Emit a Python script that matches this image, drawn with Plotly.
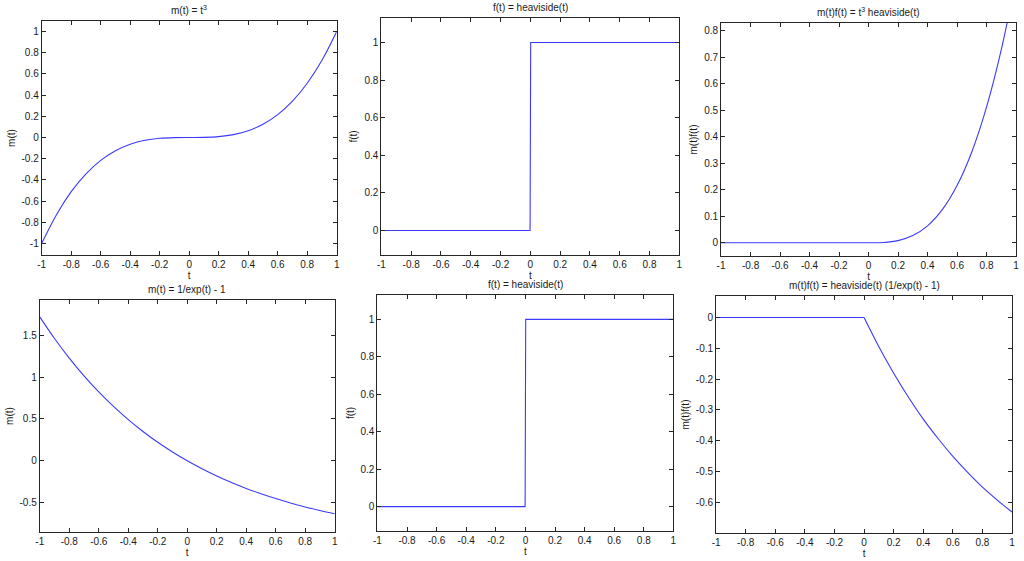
import plotly.graph_objects as go
from plotly.subplots import make_subplots

# sample points
t = [-1.0, -0.9, -0.8, -0.7, -0.6, -0.5, -0.4, -0.3, -0.2, -0.1, 0.0,
     0.1, 0.2, 0.3, 0.4, 0.5, 0.6, 0.7, 0.8, 0.9, 1.0]
t_neg = [-1.0, 0.0]
t_pos = [0.0, 0.1, 0.2, 0.3, 0.4, 0.5, 0.6, 0.7, 0.8, 0.9, 1.0]

m_cube = [-1.0, -0.729, -0.512, -0.343, -0.216, -0.125, -0.064, -0.027, -0.008, -0.001, 0.0,
          0.001, 0.008, 0.027, 0.064, 0.125, 0.216, 0.343, 0.512, 0.729, 1.0]
m_exp = [1.718, 1.46, 1.226, 1.014, 0.822, 0.649, 0.492, 0.35, 0.221, 0.105, 0.0,
         -0.095, -0.181, -0.259, -0.33, -0.393, -0.451, -0.503, -0.551, -0.593, -0.632]

t_step = [-1.0, -0.002, 0.0, 0.002, 1.0]
f_step = [0.0, 0.0, 0.5, 1.0, 1.0]

mf_cube = [0.0, 0.0, 0.0, 0.0, 0.0, 0.0, 0.0, 0.0, 0.0, 0.0, 0.0,
           0.001, 0.008, 0.027, 0.064, 0.125, 0.216, 0.343, 0.512, 0.729, 1.0]
mf_exp_flat = [0.0, 0.0]
mf_exp_pos = [0.0, -0.095, -0.181, -0.259, -0.33, -0.393, -0.451, -0.503, -0.551, -0.593, -0.632]

titles = [
    "m(t) = t<sup>3</sup>",
    "f(t) = heaviside(t)",
    "m(t)f(t) = t<sup>3</sup> heaviside(t)",
    "m(t) = 1/exp(t) - 1",
    "f(t) = heaviside(t)",
    "m(t)f(t) = heaviside(t) (1/exp(t) - 1)",
]
ylabels = ["m(t)", "f(t)", "m(t)f(t)", "m(t)", "f(t)", "m(t)f(t)"]

x_ticks = [-1, -0.8, -0.6, -0.4, -0.2, 0, 0.2, 0.4, 0.6, 0.8, 1]
x_ticktext = ["-1", "-0.8", "-0.6", "-0.4", "-0.2", "0", "0.2", "0.4", "0.6", "0.8", "1"]
y_ticks = [
    [-1, -0.8, -0.6, -0.4, -0.2, 0, 0.2, 0.4, 0.6, 0.8, 1],
    [0, 0.2, 0.4, 0.6, 0.8, 1],
    [0, 0.1, 0.2, 0.3, 0.4, 0.5, 0.6, 0.7, 0.8],
    [-0.5, 0, 0.5, 1, 1.5],
    [0, 0.2, 0.4, 0.6, 0.8, 1],
    [-0.6, -0.5, -0.4, -0.3, -0.2, -0.1, 0],
]
y_ranges = [[-1.11, 1.1], [-0.13, 1.13], [-0.05, 0.83], [-0.85, 1.92], [-0.13, 1.13], [-0.70, 0.07]]

# plot boxes in pixels: left, right, top, bottom
W, H = 1024, 561
boxes = [
    (38, 335, 21, 255), (380, 680, 18, 255), (722, 1019, 23, 256),
    (36, 333, 300, 532), (376, 674, 295, 531), (717, 1015, 296, 533),
]

LINE = dict(color="#3a3aff", width=1.1)
AXIS_COLOR = "#262626"
FONT = "Liberation Sans, Arial, sans-serif"

fig = make_subplots(rows=2, cols=3)

fig.add_trace(go.Scatter(x=t, y=m_cube, mode="lines", line=dict(shape="spline", **LINE)), row=1, col=1)
fig.add_trace(go.Scatter(x=t_step, y=f_step, mode="lines", line=LINE), row=1, col=2)
fig.add_trace(go.Scatter(x=t, y=mf_cube, mode="lines", line=dict(shape="spline", **LINE)), row=1, col=3)
fig.add_trace(go.Scatter(x=t, y=m_exp, mode="lines", line=dict(shape="spline", **LINE)), row=2, col=1)
fig.add_trace(go.Scatter(x=t_step, y=f_step, mode="lines", line=LINE), row=2, col=2)
fig.add_trace(go.Scatter(x=t_neg, y=mf_exp_flat, mode="lines", line=LINE), row=2, col=3)
fig.add_trace(go.Scatter(x=t_pos, y=mf_exp_pos, mode="lines", line=dict(shape="spline", **LINE)), row=2, col=3)

axis_common = dict(
    showline=True, mirror="ticks", linecolor=AXIS_COLOR, linewidth=1,
    ticks="inside", ticklen=4, tickcolor=AXIS_COLOR, tickwidth=1,
    showgrid=False, zeroline=False,
    tickfont=dict(family=FONT, size=10, color="#1a1a1a"),
)

for i, (x0, x1, y0, y1) in enumerate(boxes):
    n = "" if i == 0 else str(i + 1)
    fig.layout["xaxis" + n].update(
        domain=[x0 / W, x1 / W], range=[-1, 1],
        tickvals=x_ticks, ticktext=x_ticktext,
        title=dict(text="t", standoff=2, font=dict(family=FONT, size=10, color="#1a1a1a")),
        **axis_common,
    )
    fig.layout["yaxis" + n].update(
        domain=[1 - y1 / H, 1 - y0 / H], range=y_ranges[i],
        tickvals=y_ticks[i], ticktext=[f"{v:g}" for v in y_ticks[i]],
        title=dict(text=ylabels[i], standoff=4, font=dict(family=FONT, size=10, color="#1a1a1a")),
        **axis_common,
    )
    fig.add_annotation(
        text=titles[i], x=(x0 + x1) / 2 / W, y=1 - (y0 - 3) / H,
        xref="paper", yref="paper", xanchor="center", yanchor="bottom",
        showarrow=False, font=dict(family=FONT, size=10, color="#1a1a1a"),
    )

fig.update_layout(
    width=W, height=H,
    margin=dict(l=0, r=0, t=0, b=0),
    plot_bgcolor="white", paper_bgcolor="white",
    showlegend=False,
)

# drop the page's default body margin so the figure sits at the window's corner
fig.write_html(
    "out.html",
    config={"displayModeBar": False},
    post_script="document.body.style.margin='0';document.body.style.overflow='hidden';",
)
